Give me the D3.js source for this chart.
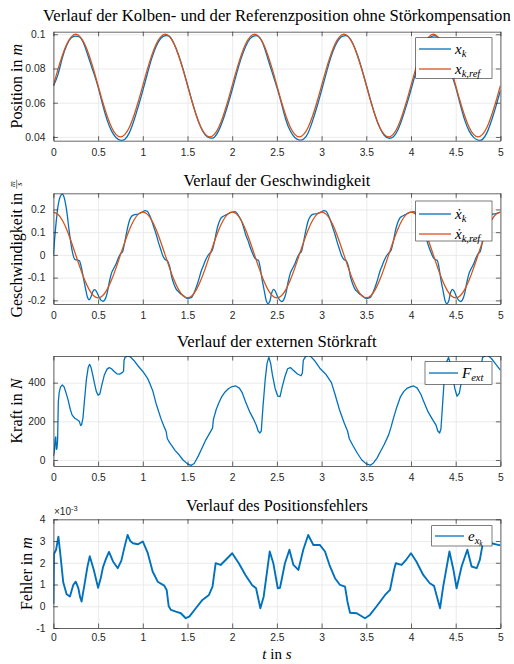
<!DOCTYPE html>
<html><head><meta charset="utf-8">
<script src="https://cdn.jsdelivr.net/npm/d3@7"></script>
<style>body{margin:0;background:#fff}</style>
</head><body>
<svg id="c" width="514" height="664"></svg>
<script>
// ---------- DATA ----------
const tGrid = [0,0.05,0.1,0.15,0.2,0.25,0.3,0.35,0.4,0.45,0.5,0.55,0.6,0.65,0.7,0.75,0.8,0.85,0.9,0.95,
1,1.05,1.1,1.15,1.2,1.25,1.3,1.35,1.4,1.45,1.5,1.55,1.6,1.65,1.7,1.75,1.8,1.85,1.9,1.95,
2,2.05,2.1,2.15,2.2,2.25,2.3,2.35,2.4,2.45,2.5,2.55,2.6,2.65,2.7,2.75,2.8,2.85,2.9,2.95,
3,3.05,3.1,3.15,3.2,3.25,3.3,3.35,3.4,3.45,3.5,3.55,3.6,3.65,3.7,3.75,3.8,3.85,3.9,3.95,
4,4.05,4.1,4.15,4.2,4.25,4.3,4.35,4.4,4.45,4.5,4.55,4.6,4.65,4.7,4.75,4.8,4.85,4.9,4.95,5];

const posRef = [0.07,0.0793,0.0876,0.0943,0.0985,0.1,0.0985,0.0943,0.0876,0.0793,0.07,0.0607,0.0524,0.0457,0.0415,0.04,0.0415,0.0457,0.0524,0.0607,
0.07,0.0793,0.0876,0.0943,0.0985,0.1,0.0985,0.0943,0.0876,0.0793,0.07,0.0607,0.0524,0.0457,0.0415,0.04,0.0415,0.0457,0.0524,0.0607,
0.07,0.0793,0.0876,0.0943,0.0985,0.1,0.0985,0.0943,0.0876,0.0793,0.07,0.0607,0.0524,0.0457,0.0415,0.04,0.0415,0.0457,0.0524,0.0607,
0.07,0.0793,0.0876,0.0943,0.0985,0.1,0.0985,0.0943,0.0876,0.0793,0.07,0.0607,0.0524,0.0457,0.0415,0.04,0.0415,0.0457,0.0524,0.0607,
0.07,0.0793,0.0876,0.0943,0.0985,0.1,0.0985,0.0943,0.0876,0.0793,0.07,0.0607,0.0524,0.0457,0.0415,0.04,0.0415,0.0457,0.0524,0.0607,0.07];

const posK = [0.0698,0.07627,0.08623,0.09377,0.09793,0.0989,0.09803,0.09317,0.08543,0.07757,0.06915,0.05903,0.04997,0.04353,0.03967,0.038,0.03867,0.04253,0.04947,0.05783,
0.06705,0.07677,0.08593,0.09302,0.09753,0.09915,0.09863,0.09447,0.08793,0.07972,0.0705,0.06108,0.05242,0.04553,0.04107,0.0394,0.03987,0.04383,0.05037,0.05853,
0.0676,0.07712,0.08593,0.09287,0.09748,0.0991,0.09843,0.09377,0.08553,0.07727,0.069,0.05973,0.05007,0.04343,0.03967,0.0382,0.03877,0.04248,0.04952,0.05793,
0.06725,0.07687,0.08593,0.09297,0.09753,0.0991,0.09853,0.09457,0.08798,0.07972,0.0705,0.06108,0.05242,0.04548,0.04097,0.0393,0.03997,0.04378,0.05047,0.05858,
0.0676,0.07717,0.08593,0.09287,0.09743,0.09905,0.09833,0.09367,0.08553,0.07727,0.0691,0.05913,0.04997,0.04353,0.03972,0.0381,0.03857,0.04253,0.04947,0.05788,0.0672];

const velRef = [0.1885,0.1793,0.1525,0.1108,0.0582,0,-0.0582,-0.1108,-0.1525,-0.1793,-0.1885,-0.1793,-0.1525,-0.1108,-0.0582,0,0.0582,0.1108,0.1525,0.1793,
0.1885,0.1793,0.1525,0.1108,0.0582,0,-0.0582,-0.1108,-0.1525,-0.1793,-0.1885,-0.1793,-0.1525,-0.1108,-0.0582,0,0.0582,0.1108,0.1525,0.1793,
0.1885,0.1793,0.1525,0.1108,0.0582,0,-0.0582,-0.1108,-0.1525,-0.1793,-0.1885,-0.1793,-0.1525,-0.1108,-0.0582,0,0.0582,0.1108,0.1525,0.1793,
0.1885,0.1793,0.1525,0.1108,0.0582,0,-0.0582,-0.1108,-0.1525,-0.1793,-0.1885,-0.1793,-0.1525,-0.1108,-0.0582,0,0.0582,0.1108,0.1525,0.1793,
0.1885,0.1793,0.1525,0.1108,0.0582,0,-0.0582,-0.1108,-0.1525,-0.1793,-0.1885,-0.1793,-0.1525,-0.1108,-0.0582,0,0.0582,0.1108,0.1525,0.1793,0.1885];

const velKT = [0,0.025,0.05,0.075,0.1,0.125,0.15,0.175,0.2,0.22,0.24,0.26,0.29,0.31,0.335,0.36,0.38,0.4,0.425,0.445,0.463,0.48,0.51,0.535,0.555,0.575,0.6,0.625,0.65,0.675,0.7,0.725,0.75,0.775,0.8,0.825,0.85,0.875,0.9,0.95,0.975,
1,1.025,1.05,1.075,1.1,1.125,1.15,1.175,1.2,1.225,1.25,1.275,1.3,1.325,1.35,1.375,1.4,1.425,1.45,1.475,1.5,1.525,1.55,1.575,1.6,1.625,1.65,1.675,1.7,1.725,1.75,1.775,1.8,1.825,1.85,1.875,1.9,1.925,1.95,1.975,
2,2.025,2.05,2.075,2.1,2.125,2.15,2.175,2.2,2.225,2.25,2.27,2.295,2.315,2.335,2.36,2.38,2.4,2.42,2.44,2.463,2.48,2.51,2.535,2.555,2.575,2.6,2.625,2.65,2.675,2.7,2.725,2.75,2.775,2.8,2.825,2.85,2.875,2.9,2.95,2.975,
3,3.025,3.05,3.075,3.1,3.125,3.15,3.175,3.2,3.225,3.25,3.275,3.3,3.325,3.35,3.375,3.4,3.425,3.45,3.475,3.5,3.525,3.55,3.575,3.6,3.625,3.65,3.675,3.7,3.725,3.75,3.775,3.8,3.825,3.85,3.875,3.9,3.925,3.95,3.975,
4,4.025,4.05,4.075,4.1,4.125,4.15,4.175,4.2,4.225,4.25,4.27,4.295,4.315,4.335,4.36,4.38,4.4,4.42,4.44,4.463,4.48,4.51,4.535,4.555,4.575,4.6,4.625,4.65,4.675,4.7,4.725,4.75,4.775,4.8,4.825,4.85,4.875,4.9,4.95,4.975,5];
const velK = [0,0.12,0.21,0.255,0.267,0.245,0.19,0.11,0.04,0.0,-0.02,-0.022,-0.025,-0.05,-0.1,-0.15,-0.185,-0.197,-0.18,-0.158,-0.153,-0.16,-0.185,-0.2,-0.204,-0.198,-0.17,-0.12,-0.08,-0.06,-0.04,-0.015,0.005,0.015,0.06,0.11,0.15,0.17,0.176,0.18,0.185,
0.19,0.195,0.192,0.175,0.15,0.12,0.09,0.055,0.025,-0.005,-0.02,-0.025,-0.05,-0.1,-0.13,-0.152,-0.162,-0.172,-0.178,-0.186,-0.192,-0.19,-0.185,-0.165,-0.14,-0.11,-0.075,-0.05,-0.025,-0.005,0.008,0.018,0.055,0.105,0.14,0.162,0.17,0.175,0.18,0.185,
0.188,0.19,0.185,0.17,0.152,0.125,0.09,0.065,0.035,0.01,-0.012,-0.02,-0.025,-0.06,-0.11,-0.16,-0.2,-0.214,-0.205,-0.17,-0.152,-0.158,-0.185,-0.2,-0.205,-0.198,-0.17,-0.12,-0.08,-0.06,-0.04,-0.015,0.005,0.015,0.06,0.11,0.15,0.17,0.178,0.182,0.185,
0.19,0.195,0.192,0.175,0.15,0.12,0.09,0.055,0.025,-0.005,-0.02,-0.025,-0.05,-0.1,-0.13,-0.152,-0.162,-0.172,-0.178,-0.186,-0.192,-0.19,-0.185,-0.165,-0.14,-0.11,-0.075,-0.05,-0.025,-0.005,0.008,0.018,0.055,0.105,0.14,0.162,0.17,0.175,0.18,0.185,
0.188,0.19,0.185,0.17,0.152,0.125,0.09,0.065,0.035,0.01,-0.012,-0.02,-0.025,-0.06,-0.11,-0.16,-0.2,-0.214,-0.205,-0.17,-0.152,-0.158,-0.185,-0.2,-0.205,-0.198,-0.17,-0.12,-0.08,-0.06,-0.04,-0.015,0.005,0.015,0.06,0.11,0.15,0.17,0.178,0.182,0.185,0.188];

const forceT = [0,0.01,0.02,0.027,0.033,0.04,0.047,0.055,0.065,0.08,0.1,0.12,0.14,0.165,0.19,0.21,0.24,0.27,0.29,0.305,0.315,0.33,0.35,0.37,0.39,0.405,0.42,0.44,0.46,0.48,0.5,0.52,0.54,0.57,0.6,0.625,0.65,0.68,0.71,0.74,0.77,0.785,0.79,0.8,0.83,0.86,0.9,0.95,
1,1.05,1.08,1.11,1.15,1.2,1.24,1.26,1.275,1.3,1.33,1.36,1.4,1.45,1.5,1.54,1.575,1.62,1.66,1.7,1.75,1.78,1.79,1.82,1.85,1.88,1.92,1.96,
2,2.04,2.08,2.11,2.15,2.2,2.24,2.27,2.29,2.31,2.325,2.345,2.37,2.39,2.41,2.43,2.45,2.48,2.51,2.535,2.56,2.59,2.62,2.65,2.69,2.73,2.77,2.785,2.795,2.82,2.85,2.88,2.92,2.98,
3.05,3.11,3.15,3.2,3.25,3.29,3.31,3.35,3.4,3.45,3.5,3.545,3.58,3.62,3.66,3.7,3.75,3.78,3.8,3.84,3.88,3.92,3.96,
4,4.03,4.07,4.11,4.14,4.19,4.24,4.28,4.3,4.32,4.335,4.355,4.375,4.395,4.42,4.44,4.46,4.49,4.515,4.54,4.57,4.6,4.64,4.7,4.75,4.78,4.8,4.83,4.86,4.9,4.95,5];
const forceV = [20,40,110,120,55,60,100,300,350,378,388,378,350,310,260,232,216,207,200,178,182,215,320,420,480,495,480,440,395,355,335,342,385,440,470,478,472,458,446,444,452,460,515,530,538,534,515,485,
458,425,395,360,290,218,170,150,110,90,70,50,30,0,-20,-28,-18,20,60,100,140,165,210,260,295,325,352,370,
380,383,372,350,300,245,210,180,150,140,150,280,420,500,532,500,440,370,330,328,380,432,472,478,462,445,436,450,515,535,542,535,515,475,
442,400,340,260,195,150,110,75,35,0,-20,-27,-15,10,45,80,130,175,210,272,325,355,372,
380,383,372,340,305,250,210,180,150,140,160,300,440,505,530,500,450,370,330,345,420,470,478,462,452,470,530,540,540,525,495,465];

// position error in units of 1e-3 m
const errT = [0,0.006,0.03,0.056,0.08,0.11,0.148,0.185,0.222,0.25,0.278,0.3,0.315,0.352,0.38,0.407,0.452,0.5,0.53,0.555,0.59,0.622,0.667,0.72,0.76,0.8,0.83,0.86,0.89,0.944,
1,1.056,1.11,1.167,1.24,1.267,1.29,1.315,1.37,1.426,1.48,1.52,1.593,1.667,1.74,1.78,1.815,1.87,1.926,
2,2.074,2.148,2.222,2.267,2.315,2.352,2.42,2.46,2.51,2.535,2.59,2.64,2.685,2.74,2.795,2.85,2.908,2.98,
3.038,3.094,3.15,3.206,3.262,3.29,3.318,3.393,3.485,3.54,3.616,3.71,3.765,3.81,3.83,3.895,3.95,
4,4.06,4.137,4.21,4.257,4.325,4.36,4.43,4.475,4.51,4.566,4.63,4.678,4.735,4.77,4.81,4.85,4.9,4.95,5];
const errV = [0.1,2.4,2.6,3.2,2.3,1.1,0.55,0.45,0.98,1.13,0.85,0.4,0.22,1.1,1.8,2.3,1.67,0.85,1.3,1.8,2.2,2.5,2.06,1.75,2.1,2.8,3.28,3.0,2.9,2.85,
2.98,2.44,1.6,1.13,0.95,0.75,0.0,-0.17,-0.25,-0.32,-0.55,-0.48,-0.09,0.29,0.52,0.9,1.98,1.9,2.13,
2.44,1.98,1.44,0.98,0.83,-0.09,0.44,2.52,1.98,0.83,0.85,1.98,2.6,1.9,1.67,2.6,3.28,2.82,2.82,
2.52,1.83,1.29,0.98,0.9,0.2,-0.3,-0.32,-0.55,-0.4,0.0,0.52,0.75,1.67,1.98,1.9,2.16,
2.44,2.06,1.44,1.06,0.94,-0.09,0.9,2.52,1.67,0.83,1.83,2.6,1.83,1.75,2.13,3.05,3.2,2.9,2.85,2.8];

const xTickVals = [0,0.5,1,1.5,2,2.5,3,3.5,4,4.5,5];
const xTickLabels = ["0","0.5","1","1.5","2","2.5","3","3.5","4","4.5","5"];
const posTicks = [0.04,0.06,0.08,0.1];
const posTickLabels = ["0.04","0.06","0.08","0.1"];
const velTicks = [-0.2,-0.1,0,0.1,0.2];
const velTickLabels = ["-0.2","-0.1","0","0.1","0.2"];
const forceTicks = [0,200,400];
const forceTickLabels = ["0","200","400"];
const errTicks = [-1,0,1,2,3,4];
const errTickLabels = ["-1","0","1","2","3","4"];

// ---------- DRAW ----------
const BLUE = "#0072BD", RED = "#D95319";
const svg = d3.select("#c");
svg.append("rect").attr("width",514).attr("height",664).attr("fill","#fff");
const X0 = 53.4, X1 = 500.4;
const x = d3.scaleLinear().domain([0,5]).range([X0,X1]);
const SERIF = "'Liberation Serif','DejaVu Serif',serif";
const SANS = "'Liberation Sans',Arial,sans-serif";
let clipId = 0;

function panel(o){
  const y = d3.scaleLinear().domain(o.domain).range([o.bottom,o.top]);
  const g = svg.append("g");
  const H = o.bottom - o.top;
  // grid
  g.append("g").attr("transform",`translate(0,${o.bottom})`)
    .call(d3.axisBottom(x).tickValues(xTickVals).tickSize(-H).tickFormat(""))
    .call(a=>{a.select(".domain").remove();a.selectAll("line").attr("stroke","#e6e6e6").attr("stroke-width",0.8);});
  g.append("g").attr("transform",`translate(${X0},0)`)
    .call(d3.axisLeft(y).tickValues(o.ticks).tickSize(-(X1-X0)).tickFormat(""))
    .call(a=>{a.select(".domain").remove();a.selectAll("line").attr("stroke","#e6e6e6").attr("stroke-width",0.8);});
  // series
  const id = "clip"+(clipId++);
  svg.append("clipPath").attr("id",id).append("rect")
    .attr("x",X0).attr("y",o.top).attr("width",X1-X0).attr("height",H);
  const lg = g.append("g").attr("clip-path",`url(#${id})`);
  o.series.forEach(s=>{
    const pts = s.t.map((tt,i)=>[tt,s.v[i]]);
    lg.append("path").datum(pts)
      .attr("d",d3.line().x(d=>x(d[0])).y(d=>y(d[1])).curve(s.curve||d3.curveLinear))
      .attr("fill","none").attr("stroke",s.color).attr("stroke-width",s.width||1.3)
      .attr("stroke-linejoin","round");
  });
  // axes with inside ticks
  const style = a=>{a.select(".domain").attr("stroke","#262626").attr("stroke-width",0.7);
    a.selectAll(".tick line").attr("stroke","#262626").attr("stroke-width",0.7);
    a.selectAll("text").attr("font-family",SANS).attr("font-size","10.3px").attr("fill","#262626");};
  g.append("g").attr("transform",`translate(0,${o.bottom})`)
    .call(d3.axisBottom(x).tickValues(xTickVals).tickSizeInner(-4.5).tickSizeOuter(0).tickPadding(o.xPad||7.5)
      .tickFormat((d,i)=>xTickLabels[i])).call(style);
  g.append("g").attr("transform",`translate(0,${o.top})`)
    .call(d3.axisTop(x).tickValues(xTickVals).tickSizeInner(-4.5).tickSizeOuter(0).tickFormat("")).call(style);
  g.append("g").attr("transform",`translate(${X0},0)`)
    .call(d3.axisLeft(y).tickValues(o.ticks).tickSizeInner(-4.5).tickSizeOuter(0).tickPadding(8)
      .tickFormat((d,i)=>o.tickLabels[i])).call(style);
  g.append("g").attr("transform",`translate(${X1},0)`)
    .call(d3.axisRight(y).tickValues(o.ticks).tickSizeInner(-4.5).tickSizeOuter(0).tickFormat("")).call(style);
  // title, sized to the reference width
  const tt = g.append("text").attr("x",(X0+X1)/2).attr("y",o.titleY).attr("text-anchor","middle")
    .attr("font-family",SERIF).attr("font-size","15.5px").attr("fill","#000").text(o.title);
  const tw = tt.node().getComputedTextLength();
  tt.attr("font-size",(15.5*o.titleW/tw).toFixed(2)+"px");
  // y label
  const yl = g.append("g").attr("transform",`translate(${o.ylX},${(o.top+o.bottom)/2}) rotate(-90)`);
  o.ylabel(yl);
  // legend
  const L = o.legend;
  const lgd = g.append("g");
  lgd.append("rect").attr("x",L.x).attr("y",L.y).attr("width",L.w).attr("height",L.h)
    .attr("fill","#fff").attr("stroke","#262626").attr("stroke-width",0.6);
  L.items.forEach(it=>{
    lgd.append("line").attr("x1",L.lx0).attr("x2",L.lx1).attr("y1",it.y).attr("y2",it.y)
      .attr("stroke",it.color).attr("stroke-width",1.3);
    const tx = lgd.append("text").attr("x",L.lx1+4).attr("y",it.y+4.5)
      .attr("font-family",SERIF).attr("font-style","italic").attr("font-size","15px").attr("fill","#000");
    it.label(tx);
  });
  return {g,y};
}

function ylabelSimple(main, ital){
  return yl=>{
    const t = yl.append("text").attr("x",0).attr("y",0).attr("text-anchor","middle")
      .attr("font-family",SERIF).attr("font-size","16px").attr("fill","#000");
    t.append("tspan").text(main);
    t.append("tspan").attr("font-style","italic").text(ital);
  };
}

// Panel 1
panel({top:31.7,bottom:140.7,domain:[0.0378,0.1015],ticks:posTicks,tickLabels:posTickLabels,
  title:"Verlauf der Kolben- und der Referenzposition ohne Störkompensation",titleY:21,titleW:468,
  ylX:21.5, ylabel:ylabelSimple("Position in ","m"),
  series:[{t:tGrid,v:posK,color:BLUE,curve:d3.curveNatural},{t:tGrid,v:posRef,color:RED,curve:d3.curveNatural}],
  legend:{x:415.7,y:37.7,w:76.3,h:40.6,lx0:419,lx1:451,items:[
    {y:49,color:BLUE,label:t=>{t.append("tspan").text("x");t.append("tspan").attr("font-size","10.5px").attr("dy",3).text("k");}},
    {y:69,color:RED,label:t=>{t.append("tspan").text("x");t.append("tspan").attr("font-size","10.5px").attr("dy",3).text("k,ref");}}
  ]}});

// Panel 2
panel({top:193.3,bottom:304,domain:[-0.216,0.271],ticks:velTicks,tickLabels:velTickLabels,
  title:"Verlauf der Geschwindigkeit",titleY:186,titleW:187,
  ylX:21.5, ylabel:yl=>{
    const t = yl.append("text").attr("x",0).attr("y",0).attr("text-anchor","start")
      .attr("font-family",SERIF).attr("font-size","16px").attr("fill","#000").text("Geschwindigkeit in");
    const w = t.node().getComputedTextLength();
    const fw = 9, gap = 4, total = w+gap+fw;
    t.attr("x",-total/2);
    const fx = -total/2 + w + gap;
    yl.append("text").attr("x",fx+fw/2).attr("y",-6.5).attr("text-anchor","middle")
      .attr("font-family",SERIF).attr("font-style","italic").attr("font-size","8px").text("m");
    yl.append("line").attr("x1",fx).attr("x2",fx+fw).attr("y1",-4.8).attr("y2",-4.8).attr("stroke","#000").attr("stroke-width",0.5);
    yl.append("text").attr("x",fx+fw/2).attr("y",0.8).attr("text-anchor","middle")
      .attr("font-family",SERIF).attr("font-style","italic").attr("font-size","8px").text("s");
  },
  series:[{t:velKT,v:velK,color:BLUE,curve:d3.curveMonotoneX},{t:tGrid,v:velRef,color:RED,curve:d3.curveNatural}],
  legend:{x:415.7,y:201,w:76.3,h:40,lx0:419,lx1:451,items:[
    {y:214,color:BLUE,label:t=>{t.append("tspan").text("ẋ");t.append("tspan").attr("font-size","10.5px").attr("dy",3).text("k");}},
    {y:234,color:RED,label:t=>{t.append("tspan").text("ẋ");t.append("tspan").attr("font-size","10.5px").attr("dy",3).text("k,ref");}}
  ]}});

// Panel 3
panel({top:356,bottom:466,domain:[-31,538],ticks:forceTicks,tickLabels:forceTickLabels,
  title:"Verlauf der externen Störkraft",titleY:347,titleW:200,
  ylX:21.7, ylabel:ylabelSimple("Kraft in ","N"),
  series:[{t:forceT,v:forceV,color:BLUE,width:1.3}],
  legend:{x:425,y:361.7,w:67,h:22.6,lx0:429,lx1:458,items:[
    {y:373,color:BLUE,label:t=>{t.append("tspan").text("F");t.append("tspan").attr("font-size","10.5px").attr("dy",3).text("ext");}}
  ]}});

// Panel 4
panel({top:519.3,bottom:628,domain:[-1,4],ticks:errTicks,tickLabels:errTickLabels,
  title:"Verlauf des Positionsfehlers",titleY:511,titleW:182,xPad:6,
  ylX:31.5, ylabel:ylabelSimple("Fehler in ","m"),
  series:[{t:errT,v:errV,color:BLUE,width:1.9}],
  legend:{x:431.7,y:525.7,w:60.3,h:20.3,lx0:435,lx1:464,items:[
    {y:536,color:BLUE,label:t=>{t.append("tspan").text("e");t.append("tspan").attr("font-size","10.5px").attr("dy",3).text("x");
      t.append("tspan").attr("font-size","7.5px").attr("dy",2).text("k");}}
  ]}});
// exponent label
const ex = svg.append("text").attr("x",54).attr("y",515).attr("font-family",SANS).attr("font-size","10px").attr("fill","#262626");
ex.append("tspan").text("×10");
ex.append("tspan").attr("font-size","7.5px").attr("dy",-4).text("-3");

// x label
const xl = svg.append("text").attr("x",(X0+X1)/2).attr("y",659).attr("text-anchor","middle")
  .attr("font-family",SERIF).attr("font-size","15px").attr("fill","#000");
xl.append("tspan").attr("font-style","italic").text("t");
xl.append("tspan").text(" in ");
xl.append("tspan").attr("font-style","italic").text("s");
</script>
</body></html>
